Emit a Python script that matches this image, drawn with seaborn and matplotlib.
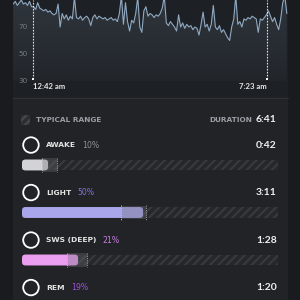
import numpy as np
import matplotlib
matplotlib.use("Agg")
import matplotlib.pyplot as plt
import seaborn as sns
from matplotlib.patches import Rectangle, FancyBboxPatch
from matplotlib.lines import Line2D
from matplotlib.colors import LinearSegmentedColormap

# ---------------- data ----------------
hr_start_min = 8.0          # minutes after midnight of first sample
hr_step_min = 3.5           # sampling interval (minutes)
hr_values = [
    87, 89, 86, 88, 90, 87, 88, 86, 89, 85,
    85, 83, 88, 84, 83, 82, 83, 81, 82, 80,
    79, 80, 87, 70, 80, 76, 79, 75, 78, 76,
    92, 77, 76, 78, 75, 77, 78, 76, 71, 77,
    79, 76, 78, 77, 76, 77, 75, 76, 77, 75,
    76, 74, 80, 93, 72, 88, 74, 67, 75, 73,
    80, 92, 70, 66, 82, 85, 78, 80, 79, 77,
    79, 78, 80, 84, 93, 73, 71, 74, 72, 70,
    67, 79, 70, 73, 69, 72, 70, 71, 68, 70,
    69, 64, 72, 81, 70, 72, 67, 72, 86, 70,
    68, 71, 66, 68, 65, 62, 60, 70, 76, 93,
    72, 74, 70, 76, 75, 77, 76, 78, 77, 76,
    66, 76, 75, 77, 79, 82, 78, 74, 77, 72,
    68, 76, 88, 93, 80,
]
sleep_start_min = 42        # 12:42 am
sleep_end_min = 443         # 7:23 am
start_label = "12:42 am"
end_label = "7:23 am"
hr_ticks = [30, 50, 70]

stages = ["AWAKE", "LIGHT", "SWS (DEEP)", "REM"]
stage_pct_labels = ["10%", "50%", "21%", "19%"]
stage_bar_values = [10.2, 47.3, 21.9, 19.0]
typical_low = [7.8, 38.7, 17.6, 15.0]
typical_high = [13.5, 48.4, 25.4, 25.0]
durations = ["0:42", "3:11", "1:28", "1:20"]
total_label = "DURATION"
total_duration = "6:41"
legend_label = "TYPICAL RANGE"

bar_colors = ["#d3d3d5", "#aaa6ec", "#eb9ef0", "#a372e0"]
pct_colors = ["#8e9196", "#7d76d8", "#c67fde", "#9d52d6"]

# ---------------- style ----------------
sns.set_theme(style="white")
plt.rcParams["font.family"] = ["DejaVu Sans"]
plt.rcParams["hatch.linewidth"] = 1.6

W = H = 300.0
fig = plt.figure(figsize=(3, 3), dpi=100, facecolor="#191b1e")

# panel
fig.patches.append(Rectangle((13 / W, 0), 275 / W, 1, transform=fig.transFigure,
                             facecolor="#212327", edgecolor="none", zorder=-5))

# ---------------- heart-rate chart ----------------
ax1 = fig.add_axes([13 / W, 1 - 97 / H, 275 / W, 97 / H])
ax1.set_zorder(1)
ax1.set_facecolor("#1d2024")
ax1.set_axisbelow(False)
minutes = hr_start_min + hr_step_min * np.arange(len(hr_values))
x_lo, x_hi = 7.7, 479.0
y_lo, y_hi = 18.1, 90.0

poly = ax1.fill_between(minutes, hr_values, 30, facecolor="none", edgecolor="none")
cmap = LinearSegmentedColormap.from_list("g", ["#22262b", "#30363d"])
grad = np.linspace(0, 1, 256).reshape(-1, 1)
im = ax1.imshow(grad, extent=[x_lo, x_hi, 30, 92], aspect="auto", cmap=cmap,
                origin="lower", zorder=1)
im.set_clip_path(poly.get_paths()[0], transform=ax1.transData)

sns.lineplot(x=minutes, y=hr_values, ax=ax1, color="#90a9c2", linewidth=0.8, zorder=3)

ax1.vlines([sleep_start_min, sleep_end_min], 31.5, y_hi, colors="#e0e0e0",
           linestyles=(0, (1.5, 1.2)), linewidth=0.8, zorder=4)
ax1.scatter([sleep_start_min, sleep_end_min], [31.5, 31.5], marker="s", s=3,
            color="white", zorder=5, linewidths=0)
ax1.text(sleep_start_min, 26.0, start_label, ha="left", va="center", fontsize=5.6,
         fontweight="bold", color="#e6e6e6", family=["Lato", "DejaVu Sans"])
ax1.text(sleep_end_min, 26.0, end_label, ha="right", va="center", fontsize=5.6,
         fontweight="bold", color="#e6e6e6", family=["Lato", "DejaVu Sans"])

ax1.set_xlim(x_lo, x_hi)
ax1.set_ylim(y_lo, y_hi)
ax1.set_xticks([])
ax1.set_yticks(hr_ticks)
ax1.set_yticklabels([str(t) for t in hr_ticks])
ax1.tick_params(axis="y", length=0, pad=-10.8, labelsize=5.2, labelcolor="#767b82")
for lbl in ax1.get_yticklabels():
    lbl.set_horizontalalignment("right")
for s in ax1.spines.values():
    s.set_visible(False)
ax1.set_xlabel("")
ax1.set_ylabel("")

# separator
fig.lines.append(Line2D([13 / W, 288 / W], [1 - 98 / H, 1 - 98 / H],
                        transform=fig.transFigure, color="#2e3135", linewidth=0.8))

# ---------------- stage bars ----------------
ax2 = fig.add_axes([22 / W, 0, 256 / W, 200 / H])
ax2.set_zorder(1)
ax2.set_facecolor("none")
rows = np.arange(len(stages))
bar_h = 0.23
label_dy = -0.42

ax2.barh(rows, 100, height=bar_h, color="#25272b", edgecolor="#36393e",
         hatch="////", linewidth=0, zorder=1)
sns.barplot(x=stage_bar_values, y=stages, hue=stages, palette=bar_colors,
            orient="h", width=bar_h, legend=False, ax=ax2, zorder=3,
            linewidth=0, saturation=1)
# round the ends of the seaborn bars
x_per_px = 100 / 256.0
y_per_px = 1 / 47.5
for cont in list(ax2.containers)[1:]:
    for p in cont.patches:
        x0, y0, w, h = p.get_x(), p.get_y(), p.get_width(), p.get_height()
        fb = FancyBboxPatch((x0, y0), w, h,
                            boxstyle="round,pad=0,rounding_size=%f" % (3.5 * x_per_px),
                            mutation_aspect=y_per_px / x_per_px,
                            facecolor=p.get_facecolor(), edgecolor="none", zorder=3)
        ax2.add_patch(fb)
        p.set_visible(False)

lows = np.array(typical_low)
highs = np.array(typical_high)
ax2.barh(rows, highs - lows, left=lows, height=bar_h + 0.05, color="#6a6d72",
         alpha=0.35, linewidth=0, zorder=4)
ax2.vlines(lows, rows - 0.15, rows + 0.15, colors="#d0d0d0", linestyles=(0, (1.5, 1.2)),
           linewidth=0.6, zorder=5)
ax2.vlines(highs, rows - 0.15, rows + 0.15, colors="#a0a0a0", linestyles=(0, (1.5, 1.2)),
           linewidth=0.6, zorder=5)

ax2.scatter(np.full(len(stages), 3.5), rows + label_dy, s=125, facecolors="none",
            edgecolors="white", linewidths=1.3, zorder=5, clip_on=False)
for i, stage in enumerate(stages):
    t = ax2.text(9.4, i + label_dy, stage, ha="left", va="center", fontsize=5.4,
                 fontweight="bold", color="#e4e4e4")
    ax2.annotate(stage_pct_labels[i], xy=(1, 0.5), xycoords=t, xytext=(4.5, 0),
                 textcoords="offset points", ha="left", va="center", fontsize=5.6,
                 color=pct_colors[i])
    ax2.text(99.6, i + label_dy, durations[i], ha="right", va="center", fontsize=7.5,
             fontweight="bold", color="#f0f0f0", family=["Lato", "DejaVu Sans"])

hy = -0.947
ax2.add_patch(Rectangle((-0.4, hy - 0.095), 3.5, 0.19, facecolor="#2c2e33",
                        edgecolor="#45484d", hatch="////", linewidth=0, clip_on=False))
ax2.text(5.5, hy, legend_label, ha="left", va="center", fontsize=5.3,
         fontweight="bold", color="#9a9ea5")
ax2.text(89.8, hy, total_label, ha="right", va="center", fontsize=5.3,
         fontweight="bold", color="#9a9ea5")
ax2.text(99.6, hy, total_duration, ha="right", va="center", fontsize=7.5,
         fontweight="bold", color="#f0f0f0", family=["Lato", "DejaVu Sans"])

ax2.set_xlim(0, 100)
ax2.set_ylim(2.842, -1.368)
ax2.axis("off")

fig.savefig("out.png", dpi=100, facecolor=fig.get_facecolor())
